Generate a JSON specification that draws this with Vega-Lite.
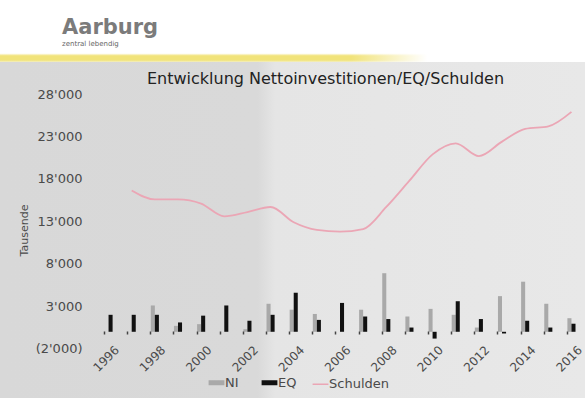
{
  "$schema": "https://vega.github.io/schema/vega-lite/v6.json",
  "padding": 0,
  "spacing": 0,
  "background": "white",
  "config": {"view": {"stroke": null}, "font": "DejaVu Sans"},
  "datasets": {
    "finanzen": [
      {"year": 1996, "series": "NI", "value": 0},
      {"year": 1997, "series": "NI", "value": 0},
      {"year": 1998, "series": "NI", "value": 3100},
      {"year": 1999, "series": "NI", "value": 700},
      {"year": 2000, "series": "NI", "value": 900},
      {"year": 2001, "series": "NI", "value": 0},
      {"year": 2002, "series": "NI", "value": 300},
      {"year": 2003, "series": "NI", "value": 3300},
      {"year": 2004, "series": "NI", "value": 2600},
      {"year": 2005, "series": "NI", "value": 2100},
      {"year": 2006, "series": "NI", "value": 0},
      {"year": 2007, "series": "NI", "value": 2600},
      {"year": 2008, "series": "NI", "value": 6900},
      {"year": 2009, "series": "NI", "value": 1800},
      {"year": 2010, "series": "NI", "value": 2700},
      {"year": 2011, "series": "NI", "value": 2000},
      {"year": 2012, "series": "NI", "value": 500},
      {"year": 2013, "series": "NI", "value": 4200},
      {"year": 2014, "series": "NI", "value": 5900},
      {"year": 2015, "series": "NI", "value": 3300},
      {"year": 2016, "series": "NI", "value": 1600},
      {"year": 1996, "series": "EQ", "value": 2000},
      {"year": 1997, "series": "EQ", "value": 2000},
      {"year": 1998, "series": "EQ", "value": 2000},
      {"year": 1999, "series": "EQ", "value": 1100},
      {"year": 2000, "series": "EQ", "value": 1900},
      {"year": 2001, "series": "EQ", "value": 3100},
      {"year": 2002, "series": "EQ", "value": 1300},
      {"year": 2003, "series": "EQ", "value": 2000},
      {"year": 2004, "series": "EQ", "value": 4600},
      {"year": 2005, "series": "EQ", "value": 1400},
      {"year": 2006, "series": "EQ", "value": 3400},
      {"year": 2007, "series": "EQ", "value": 1800},
      {"year": 2008, "series": "EQ", "value": 1500},
      {"year": 2009, "series": "EQ", "value": 500},
      {"year": 2010, "series": "EQ", "value": -800},
      {"year": 2011, "series": "EQ", "value": 3600},
      {"year": 2012, "series": "EQ", "value": 1500},
      {"year": 2013, "series": "EQ", "value": -200},
      {"year": 2014, "series": "EQ", "value": 1300},
      {"year": 2015, "series": "EQ", "value": 500},
      {"year": 2016, "series": "EQ", "value": 950},
      {"year": 1997, "series": "Schulden", "value": 16650},
      {"year": 1998, "series": "Schulden", "value": 15600},
      {"year": 1999, "series": "Schulden", "value": 15600},
      {"year": 2000, "series": "Schulden", "value": 15100},
      {"year": 2001, "series": "Schulden", "value": 13600},
      {"year": 2002, "series": "Schulden", "value": 14100},
      {"year": 2003, "series": "Schulden", "value": 14700},
      {"year": 2004, "series": "Schulden", "value": 12900},
      {"year": 2005, "series": "Schulden", "value": 12000},
      {"year": 2006, "series": "Schulden", "value": 11800},
      {"year": 2007, "series": "Schulden", "value": 12100},
      {"year": 2008, "series": "Schulden", "value": 14700},
      {"year": 2009, "series": "Schulden", "value": 17800},
      {"year": 2010, "series": "Schulden", "value": 20900},
      {"year": 2011, "series": "Schulden", "value": 22200},
      {"year": 2012, "series": "Schulden", "value": 20700},
      {"year": 2013, "series": "Schulden", "value": 22400},
      {"year": 2014, "series": "Schulden", "value": 23900},
      {"year": 2015, "series": "Schulden", "value": 24200},
      {"year": 2016, "series": "Schulden", "value": 25900}
    ]
  },
  "vconcat": [
    {
      "width": 585,
      "height": 62,
      "data": {"values": [{"logo": "Aarburg"}]},
      "title": {
        "text": "Aarburg",
        "subtitle": "zentral lebendig",
        "anchor": "start",
        "orient": "top",
        "offset": -47,
        "dx": 62,
        "font": "DejaVu Sans",
        "fontSize": 21,
        "fontWeight": "bold",
        "color": "#7b7b7b",
        "subtitleFont": "DejaVu Sans",
        "subtitleFontSize": 7,
        "subtitleColor": "#666666",
        "subtitlePadding": 2
      },
      "layer": [
        {
          "mark": {
            "type": "rect",
            "color": {
              "gradient": "linear", "x1": 0, "y1": 0, "x2": 0, "y2": 1,
              "stops": [
                {"offset": 0, "color": "#ffffff"},
                {"offset": 0.86, "color": "#ffffff"},
                {"offset": 0.9, "color": "#f1e37a"},
                {"offset": 0.97, "color": "#f1e37a"},
                {"offset": 1, "color": "#f4efc4"}
              ]
            }
          },
          "encoding": {}
        },
        {
          "mark": {
            "type": "rect",
            "color": {
              "gradient": "linear", "x1": 0, "y1": 0, "x2": 1, "y2": 0,
              "stops": [
                {"offset": 0, "color": "rgba(255,255,255,0)"},
                {"offset": 0.6, "color": "rgba(255,255,255,0)"},
                {"offset": 0.73, "color": "rgba(255,255,255,1)"},
                {"offset": 1, "color": "rgba(255,255,255,1)"}
              ]
            }
          },
          "encoding": {}
        }
      ]
    },
    {
      "width": 585,
      "height": 336,
      "title": {
        "text": "Entwicklung Nettoinvestitionen/EQ/Schulden",
        "anchor": "middle",
        "orient": "top",
        "offset": -25,
        "dx": 33,
        "font": "DejaVu Sans",
        "fontSize": 16,
        "fontWeight": "normal",
        "color": "#222222"
      },
      "layer": [
        {
          "data": {"values": [{"panel": "Hintergrund"}]},
          "mark": {
            "type": "rect",
            "color": {
              "gradient": "linear", "x1": 0, "y1": 0, "x2": 1, "y2": 0,
              "stops": [
                {"offset": 0, "color": "#d8d8d8"},
                {"offset": 0.44, "color": "#d9d9d9"},
                {"offset": 0.47, "color": "#e5e5e5"},
                {"offset": 1, "color": "#e8e8e8"}
              ]
            }
          },
          "encoding": {}
        },
        {
          "data": {"name": "finanzen"},
          "transform": [{"filter": "datum.series !== 'Schulden'"}],
          "mark": {"type": "bar"},
          "encoding": {
            "x": {
              "field": "year",
              "type": "ordinal",
              "scale": {"paddingInner": 0.65, "paddingOuter": 0, "range": [104.5, 575.5]},
              "axis": {
                "orient": "bottom",
                "offset": -67,
                "zindex": 1,
                "title": null,
                "domain": false,
                "ticks": true,
                "tickColor": "#444444",
                "tickSize": 3,
                "tickWidth": 1.5,
                "bandPosition": 0,
                "labelAngle": -45,
                "labelAlign": "right",
                "labelBaseline": "top",
                "labelPadding": 10,
                "labelOffset": 5,
                "labelFontSize": 12,
                "labelColor": "#4a4a4a",
                "labelOverlap": false,
                "labelExpr": "datum.value % 2 == 0 ? datum.label : ''"
              }
            },
            "xOffset": {"field": "series", "type": "nominal", "sort": ["NI", "EQ"]},
            "y": {
              "field": "value",
              "type": "quantitative",
              "scale": {"domain": [-7800, 31780], "nice": false, "zero": false},
              "axis": {
                "orient": "left",
                "offset": -86,
                "zindex": 1,
                "values": [-2000, 3000, 8000, 13000, 18000, 23000, 28000],
                "labelExpr": "datum.value < 0 ? '(' + replace(format(-datum.value, ','), ',', \"'\") + ')' : replace(format(datum.value, ','), ',', \"'\")",
                "domain": false,
                "ticks": false,
                "grid": false,
                "labelPadding": 4,
                "labelFontSize": 13,
                "labelColor": "#4a4a4a",
                "title": "Tausende",
                "titleFontSize": 11,
                "titleFontWeight": "normal",
                "titleColor": "#4a4a4a",
                "titlePadding": 6
              }
            },
            "color": {
              "field": "series",
              "type": "nominal",
              "scale": {"domain": ["NI", "EQ", "Schulden"], "range": ["#a9a9a9", "#111111", "#eba6b5"]},
              "legend": {
                "orient": "none",
                "legendX": 210,
                "legendY": 376,
                "zindex": 1,
                "direction": "horizontal",
                "title": null,
                "symbolType": "stroke",
                "symbolStrokeWidth": 5,
                "symbolSize": 250,
                "labelFontSize": 13,
                "labelColor": "#4a4a4a",
                "labelOffset": 2,
                "columnPadding": 12,
                "encode": {"symbols": {"update": {"strokeWidth": {"signal": "datum.value === 'Schulden' ? 1.5 : 5"}}}}
              }
            }
          }
        },
        {
          "data": {"name": "finanzen"},
          "transform": [{"filter": "datum.series === 'Schulden'"}],
          "mark": {"type": "line", "strokeWidth": 1.8, "interpolate": "monotone"},
          "encoding": {
            "x": {"field": "year", "type": "ordinal"},
            "y": {"field": "value", "type": "quantitative"},
            "color": {"field": "series", "type": "nominal"}
          }
        }
      ]
    }
  ]
}
